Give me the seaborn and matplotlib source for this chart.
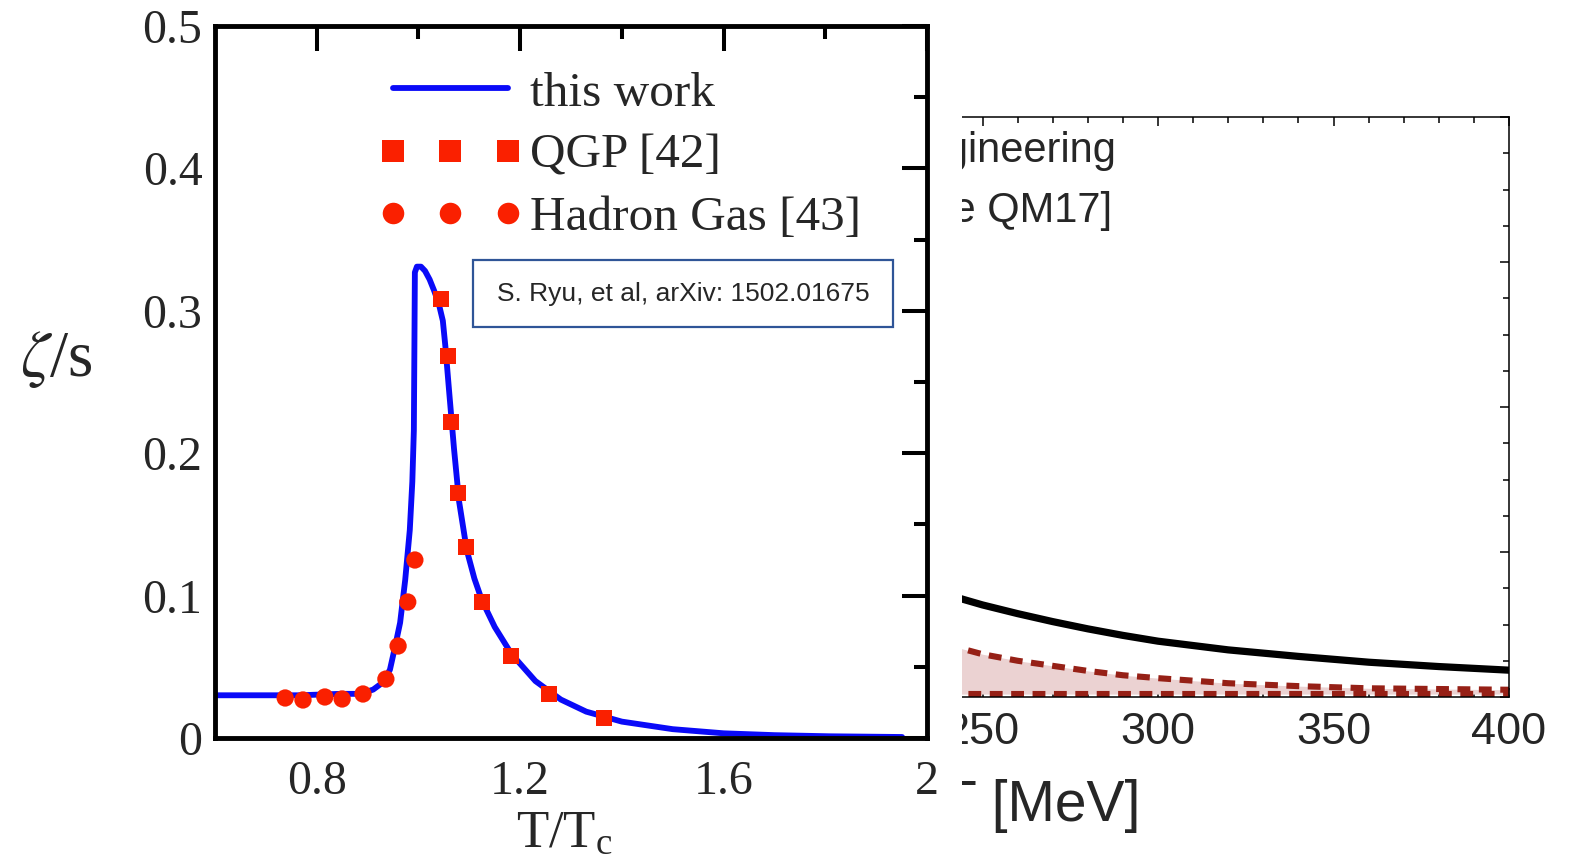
import matplotlib
matplotlib.use("Agg")
import matplotlib.pyplot as plt
import seaborn as sns
from matplotlib.lines import Line2D
from matplotlib.patches import Rectangle
from matplotlib.legend_handler import HandlerLine2D
from matplotlib.ticker import FixedLocator, MultipleLocator

# ---------------- data: left panel (zeta/s vs T/Tc) ----------------
curve_t = [0.600, 0.767, 0.846, 0.885, 0.911, 0.930, 0.944, 0.954, 0.964, 0.974,
           0.983, 0.988, 0.991, 0.992, 0.993, 0.997, 1.005, 1.013, 1.022, 1.031,
           1.040, 1.048, 1.053, 1.060, 1.070, 1.080, 1.095, 1.110, 1.125, 1.150,
           1.183, 1.230, 1.280, 1.330, 1.400, 1.500, 1.600, 1.700, 1.809, 1.951]
curve_zeta = [0.030, 0.030, 0.031, 0.031, 0.034, 0.039, 0.048, 0.064, 0.081, 0.111,
              0.146, 0.180, 0.216, 0.270, 0.327, 0.331, 0.331, 0.328, 0.322, 0.314,
              0.305, 0.293, 0.275, 0.245, 0.203, 0.166, 0.132, 0.112, 0.0965, 0.078,
              0.059, 0.040, 0.027, 0.0185, 0.0115, 0.0062, 0.0033, 0.0020, 0.0012, 0.0007]
qgp_t = [1.044, 1.058, 1.064, 1.078, 1.093, 1.125, 1.182, 1.257, 1.365]
qgp_zeta = [0.308, 0.268, 0.222, 0.172, 0.134, 0.0955, 0.0576, 0.0309, 0.0140]
hg_t = [0.738, 0.773, 0.816, 0.850, 0.891, 0.936, 0.960, 0.979, 0.993]
hg_zeta = [0.0281, 0.0267, 0.0288, 0.0274, 0.0309, 0.0414, 0.0646, 0.0955, 0.125]

x_ticks = [0.8, 1.2, 1.6, 2.0]
x_tick_labels = ["0.8", "1.2", "1.6", "2"]
x_minor = [1.0, 1.4, 1.8]
y_ticks = [0, 0.1, 0.2, 0.3, 0.4, 0.5]
y_tick_labels = ["0", "0.1", "0.2", "0.3", "0.4", "0.5"]
y_minor = [0.05, 0.15, 0.25, 0.35, 0.45]
series_labels = ["this work", "QGP [42]", "Hadron Gas [43]"]
citation = "S. Ryu, et al, arXiv: 1502.01675"

# ---------------- data: right panel (partially covered) ----------------
bayes_T = [240, 250, 260, 270, 280, 290, 300, 320, 340, 360, 380, 400]
bayes_mean = [0.0141, 0.0127, 0.0115, 0.0104, 0.0094, 0.0085, 0.0077, 0.0065,
              0.0056, 0.0048, 0.0042, 0.0037]
bayes_upper = [0.0072, 0.0059, 0.0050, 0.0043, 0.0036, 0.0030, 0.0026, 0.0019,
               0.0015, 0.0012, 0.0011, 0.0010]
bayes_lower = [0.0004, 0.0004, 0.0004, 0.0004, 0.0004, 0.0004, 0.0004, 0.0004,
               0.0004, 0.0004, 0.0004, 0.0004]
bayes_ticks = [200, 250, 300, 350, 400]
bayes_tick_labels = ["200", "250", "300", "350", "400"]
bayes_texts = ["Engineering", "[Duke QM17]"]
bayes_xlabel = "T [MeV]"

# ---------------- style ----------------
sns.set_style("white")
plt.rcParams["font.family"] = ["Liberation Serif", "DejaVu Serif"]
plt.rcParams["mathtext.fontset"] = "stix"

BLUE = "#0A0AF8"
RED = "#FA2000"
DARKRED = "#962016"
PINK = "#EBD2D2"

W, H = 1573, 861
fig = plt.figure(figsize=(W / 100, H / 100), dpi=100)
fig.patch.set_facecolor("white")


def px_rect(l, t, r, b):
    return [l / W, 1 - b / H, (r - l) / W, (b - t) / H]


ax_r = fig.add_axes(px_rect(807, 117, 1509, 697))
ax_l = fig.add_axes(px_rect(215, 26, 927, 738))
ax_r.set_zorder(0)
ax_l.set_zorder(2)
cover = Rectangle((0, 0), 962 / W, 1, transform=fig.transFigure,
                  facecolor="white", edgecolor="none", zorder=1)
fig.add_artist(cover)

# ---------------- right panel ----------------
ax_r.set_facecolor("white")
ax_r.fill_between(bayes_T, bayes_lower, bayes_upper, color=PINK, linewidth=0, zorder=1)
sns.lineplot(x=bayes_T, y=bayes_mean, ax=ax_r, color="black", linewidth=5.2,
             estimator=None, sort=False, zorder=3)
sns.lineplot(x=bayes_T, y=bayes_upper, ax=ax_r, color=DARKRED, linewidth=4.4,
             linestyle=(0, (2.1, 1.4)), estimator=None, sort=False, zorder=2)
sns.lineplot(x=bayes_T, y=bayes_lower, ax=ax_r, color=DARKRED, linewidth=4.4,
             linestyle=(0, (2.1, 1.4)), estimator=None, sort=False, zorder=2)
ax_r.set_xlim(200, 400)
ax_r.set_ylim(0, 0.08)
ax_r.xaxis.set_major_locator(FixedLocator(bayes_ticks))
ax_r.set_xticklabels(bayes_tick_labels, fontsize=32.5, fontfamily="Liberation Sans")
ax_r.xaxis.set_minor_locator(MultipleLocator(10))
ax_r.yaxis.set_major_locator(MultipleLocator(0.02))
ax_r.yaxis.set_minor_locator(MultipleLocator(0.005))
ax_r.tick_params(which="both", direction="in", top=True, right=True, left=True,
                 bottom=True, labelleft=False, width=1.1, color="black")
ax_r.tick_params(which="major", length=6.5)
ax_r.tick_params(which="minor", length=4.3)
ax_r.tick_params(axis="x", pad=11)
for s in ax_r.spines.values():
    s.set_linewidth(1.1)
    s.set_color("black")
ax_r.set_xlabel(bayes_xlabel, fontsize=41, fontfamily="Liberation Sans",
                ha="right", va="center")
ax_r.xaxis.set_label_coords((1141 - 807) / 702, (697 - 806) / 580)
ax_r.set_ylabel("")
ax_r.text((1117 - 807) / 702, (697 - 162) / 580, bayes_texts[0], transform=ax_r.transAxes,
          ha="right", va="baseline", fontsize=30, fontfamily="Liberation Sans")
ax_r.text((1112 - 807) / 702, (697 - 222) / 580, bayes_texts[1], transform=ax_r.transAxes,
          ha="right", va="baseline", fontsize=30, fontfamily="Liberation Sans")

# ---------------- left panel ----------------
ax_l.set_facecolor("white")
sns.lineplot(x=curve_t, y=curve_zeta, ax=ax_l, color=BLUE, linewidth=4.2,
             estimator=None, sort=False, zorder=2)
sns.scatterplot(x=qgp_t, y=qgp_zeta, ax=ax_l, marker="s", s=135, color=RED,
                linewidth=0, edgecolor="none", zorder=3)
sns.scatterplot(x=hg_t, y=hg_zeta, ax=ax_l, marker="o", s=155, color=RED,
                linewidth=0, edgecolor="none", zorder=3)
ax_l.set_xlim(0.6, 2.0)
ax_l.set_ylim(0, 0.5)
ax_l.xaxis.set_major_locator(FixedLocator(x_ticks))
ax_l.set_xticklabels(x_tick_labels)
ax_l.xaxis.set_minor_locator(FixedLocator(x_minor))
ax_l.yaxis.set_major_locator(FixedLocator(y_ticks))
ax_l.set_yticklabels(y_tick_labels)
ax_l.yaxis.set_minor_locator(FixedLocator(y_minor))
ax_l.tick_params(which="both", direction="in", top=True, right=True, width=2.9,
                 color="black", labelsize=34.5)
ax_l.tick_params(which="major", length=18)
ax_l.tick_params(which="minor", length=9.5)
ax_l.tick_params(axis="x", pad=16)
ax_l.tick_params(axis="y", pad=9)
for s in ax_l.spines.values():
    s.set_linewidth(3.5)
    s.set_color("black")

ax_l.set_ylabel(r"$\zeta$/s", fontsize=47, rotation=0, ha="center", va="center")
ax_l.yaxis.set_label_coords((56 - 215) / 712, (738 - 360) / 712)
ax_l.set_xlabel(r"T/T$_\mathregular{c}$", fontsize=38, ha="center", va="center")
ax_l.xaxis.set_label_coords((565 - 215) / 712, (738 - 834) / 712)

handles = [
    Line2D([], [], color=BLUE, linewidth=4.2),
    Line2D([], [], linestyle="none", marker="s", markersize=15.5, color=RED, markeredgewidth=0),
    Line2D([], [], linestyle="none", marker="o", markersize=15.5, color=RED, markeredgewidth=0),
]
leg = ax_l.legend(handles, series_labels, loc="upper left",
                  bbox_to_anchor=(393 / W, 1 - 71 / H), bbox_transform=fig.transFigure,
                  frameon=False, prop={"family": "Liberation Serif", "size": 35.5},
                  handlelength=2.33, handletextpad=0.45, labelspacing=0.36,
                  borderpad=0, borderaxespad=0, numpoints=3,
                  handler_map={Line2D: HandlerLine2D(marker_pad=0)})

ax_l.add_patch(Rectangle((473 / W, 1 - 327 / H), 420 / W, 67 / H, transform=fig.transFigure,
                         facecolor="white", edgecolor="#2F5597", linewidth=1.6,
                         clip_on=False, zorder=4))
ax_l.text(683 / W, 1 - 294 / H, citation, transform=fig.transFigure, ha="center",
          va="center", fontsize=19, fontfamily="Liberation Sans", zorder=5)

fig.savefig("out.png", dpi=100, facecolor="white")
